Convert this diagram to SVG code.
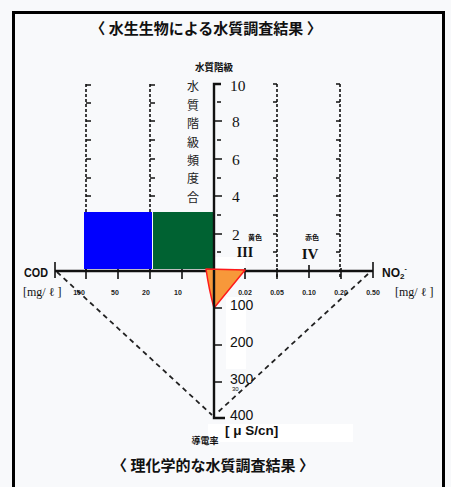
<svg xmlns="http://www.w3.org/2000/svg" width="451" height="487" viewBox="0 0 451 487">
<style>
.jp{font-family:"Noto Sans CJK JP","Noto Sans CJK SC",sans-serif;font-weight:bold;fill:#111}
.jpn{font-family:"Noto Sans CJK JP","Noto Sans CJK SC",sans-serif;font-weight:normal;fill:#222}
.ser{font-family:"Liberation Serif",serif;fill:#111}
.sans{font-family:"Liberation Sans",Arial,sans-serif;fill:#111}
.dash{stroke:#111;stroke-width:1.6;stroke-dasharray:3 2;fill:none}
.diag{stroke:#222;stroke-width:1.8;stroke-dasharray:5 4;fill:none}
.ax{stroke:#111;stroke-width:2.4;fill:none}
.tk{stroke:#111;stroke-width:1.6;fill:none}
.sm{font-family:"Liberation Sans",Arial,sans-serif;font-weight:bold;font-size:7px;fill:#222;text-anchor:middle}
</style>
<rect x="0" y="0" width="451" height="487" fill="#f8f9fb"/>
<rect x="13.5" y="12.5" width="430" height="490" fill="none" stroke="#000" stroke-width="3"/>

<g id="title-top"><text class="jp" x="206" y="34" font-size="15" text-anchor="middle">〈 水生生物による水質調査結果 〉</text></g>
<g id="title-bottom"><text class="jp" x="213" y="471" font-size="15" text-anchor="middle">〈 理化学的な水質調査結果 〉</text></g>

<g id="connectors">
  <path class="dash" d="M86 84V270M150 84V270M277 84V278M340 84V278"/>
  <path class="tk" d="M86 85h5M86 103h5M86 121h5M86 140h5M86 159h5M86 178h5M86 196h5
                      M150 85h5M150 103h5M150 121h5M150 140h5M150 159h5M150 178h5M150 196h5
                      M277 84h-4M277 102h-4M277 121h-4M277 140h-4M277 159h-4M277 178h-4M277 196h-4M277 215h-4M277 234h-4M277 252h-4
                      M340 84h-4M340 102h-4M340 121h-4M340 140h-4M340 159h-4M340 178h-4M340 196h-4M340 215h-4M340 234h-4M340 252h-4"/>
  <path class="diag" d="M57 272L212 415"/>
  <path class="diag" d="M368 274L216 414"/>
</g>

<g id="blue-box"><rect x="84" y="212" width="68" height="57" fill="#0000ff"/></g>
<g id="green-box"><rect x="153" y="212" width="61" height="57" fill="#006232"/></g>
<g id="white-patch"><rect x="215" y="257" width="30" height="11" fill="#ffffff"/></g>

<g id="level-axis">
  <path class="ax" d="M221 84H214V270"/>
  <path class="tk" d="M214 121h8M214 159h8M214 196h8M214 234h8M217 102h4M217 140h4M217 178h4M217 215h4M217 252h4"/>
  <text class="jp" x="214" y="71" font-size="10" text-anchor="middle" textLength="38" lengthAdjust="spacingAndGlyphs">水質階級</text>
  <g class="ser" font-size="15.5">
    <text x="230" y="91">10</text>
    <text x="232" y="127">8</text>
    <text x="232" y="165">6</text>
    <text x="232" y="202">4</text>
    <text x="232" y="240">2</text>
  </g>
  <g class="jpn" font-size="12" text-anchor="middle">
    <text x="193" y="91">水</text>
    <text x="193" y="110">質</text>
    <text x="193" y="128">階</text>
    <text x="193" y="147">級</text>
    <text x="193" y="165">頻</text>
    <text x="193" y="183">度</text>
    <text x="193" y="202">合</text>
  </g>
  <text class="jp" x="255" y="240" font-size="7" text-anchor="middle">黄色</text>
  <text class="jp" x="312" y="240" font-size="7" text-anchor="middle">赤色</text>
  <text class="ser" x="245" y="257" font-size="14" font-weight="bold" text-anchor="middle">III</text>
  <text class="ser" x="310" y="259" font-size="15" font-weight="bold" text-anchor="middle">IV</text>
</g>

<g id="h-axis">
  <path class="ax" d="M55 271H373"/>
  <path class="tk" d="M55 262V278M373 262V278M86 269V279M118 269V279M150 269V279M182 269V279M245 268V279M277 268V279M309 265V278M341 268V279"/>
  <text class="sans" x="24" y="277" font-size="12" font-weight="bold" textLength="24" lengthAdjust="spacingAndGlyphs">COD</text>
  <text class="ser" x="23" y="296" font-size="12">[mg/ ℓ ]</text>
  <text class="sans" x="382" y="277" font-size="12" font-weight="bold">NO<tspan font-size="8" dy="2">2</tspan><tspan font-size="7" dy="-8">-</tspan></text>
  <text class="ser" x="395" y="296" font-size="12">[mg/ ℓ ]</text>
  <text class="sm" x="79" y="295">100</text>
  <text class="sm" x="115" y="295">50</text>
  <text class="sm" x="146" y="295">20</text>
  <text class="sm" x="178" y="295">10</text>
  <text class="sm" x="245" y="295">0.02</text>
  <text class="sm" x="277" y="295">0.05</text>
  <text class="sm" x="309" y="295">0.10</text>
  <text class="sm" x="341" y="295">0.20</text>
  <text class="sm" x="373" y="295">0.50</text>
</g>

<g id="orange-triangle"><path d="M206 269L245 270L214 308Q209 290 206 269Z" fill="#f7983a" stroke="#ff1a1a" stroke-width="1.5" stroke-linejoin="round"/></g>

<g id="cond-axis">
  <rect x="226" y="297" width="20" height="72" fill="#ffffff"/>
  <rect x="208" y="424" width="145" height="18" fill="#ffffff"/>
  <path class="ax" d="M214 270V418H225"/>
  <path class="tk" d="M214 308h8M214 345h8M214 382h8"/>
  <g class="sans" font-size="14">
    <text x="230" y="310">100</text>
    <text x="230" y="347">200</text>
    <text x="230" y="384">300</text>
    <text x="230" y="420">400</text>
  </g>
  <text class="sans" x="232" y="391" font-size="6" fill="#aaa">30</text>
  <text class="sans" x="225" y="435" font-size="13.5" font-weight="bold">[ μ S/cn]</text>
  <text class="jp" x="205" y="444" font-size="9" text-anchor="middle">導電率</text>
</g>
</svg>
